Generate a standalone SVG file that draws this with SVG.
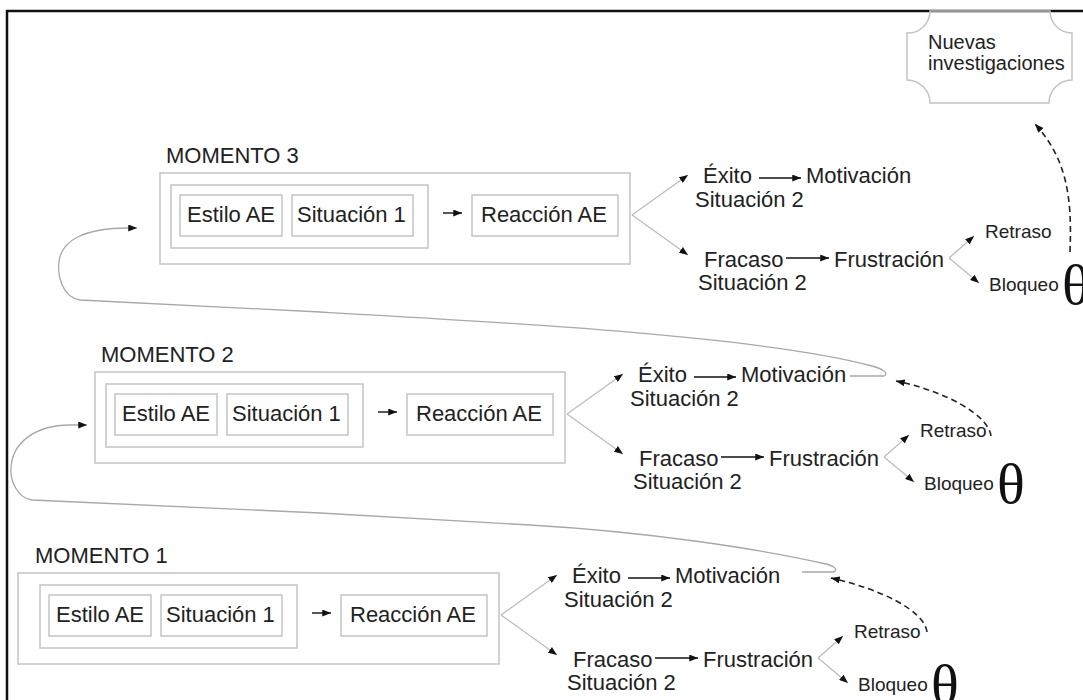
<svg xmlns="http://www.w3.org/2000/svg" width="1083" height="700" viewBox="0 0 1083 700">
<defs>
<style>
.bx{fill:none;stroke:#c4c4c4;stroke-width:1.5}
.t{font-family:"Liberation Sans",Arial,sans-serif;font-size:22px;fill:#222}
.ts{font-family:"Liberation Sans",Arial,sans-serif;font-size:19px;fill:#222}
.th{font-family:"Liberation Serif","Times New Roman",serif;font-size:58px;fill:#111}
.br{fill:none;stroke:#bdbdbd;stroke-width:1.3}
.ar{fill:none;stroke:#111;stroke-width:1.4}
.cn{fill:none;stroke:#a8a8a8;stroke-width:1.3}
.ds{fill:none;stroke:#222;stroke-width:1.6;stroke-dasharray:6 4}
</style>
<marker id="ah" viewBox="0 0 10 8" refX="10" refY="4" markerWidth="9" markerHeight="7" markerUnits="userSpaceOnUse" orient="auto"><path d="M0,0 L10,4 L0,8 Z" fill="#111"/></marker>
</defs>
<rect x="0" y="0" width="1083" height="700" fill="#fff"/>
<rect x="7" y="11" width="1090" height="710" fill="none" stroke="#111" stroke-width="2.5"/>

<g id="nuevas">
<path class="bx" d="M930,11 H1050 A22,22 0 0 0 1072,33 V80 A23,23 0 0 0 1049,103 H930 A23,23 0 0 0 907,80 V33 A22,22 0 0 0 930,11 Z"/>
<text class="t" style="font-size:20px" x="928" y="49">Nuevas</text>
<text class="t" style="font-size:20px" x="928" y="70">investigaciones</text>
</g>

<g id="momento3">
<text class="t" x="166" y="163">MOMENTO 3</text>
<rect class="bx" x="160" y="173" width="470" height="91"/>
<rect class="bx" x="171" y="185" width="257" height="63"/>
<g id="m3-estilo"><rect class="bx" x="180" y="195" width="102" height="41"/><text class="t" x="187" y="222">Estilo AE</text></g>
<g id="m3-sit1"><rect class="bx" x="292" y="195" width="121" height="41"/><text class="t" x="297" y="222">Situación 1</text></g>
<g id="m3-reaccion"><rect class="bx" x="472" y="195" width="146" height="41"/><text class="t" x="481" y="222">Reacción AE</text></g>
<g id="m3-exito"><text class="t" x="703" y="183">Éxito</text><text class="t" x="695" y="207">Situación 2</text></g>
<g id="m3-motivacion"><text class="t" x="806" y="183">Motivación</text></g>
<g id="m3-fracaso"><text class="t" x="704" y="267">Fracaso</text><text class="t" x="698" y="290">Situación 2</text></g>
<g id="m3-frustracion"><text class="t" x="834" y="267">Frustración</text></g>
<g id="m3-retraso"><text class="ts" x="985" y="238">Retraso</text></g>
<g id="m3-bloqueo"><text class="ts" x="989" y="291">Bloqueo</text><text class="th" x="1062" y="304">θ</text></g>
</g>

<g id="momento2" transform="translate(-65,199)">
<text class="t" x="166" y="163">MOMENTO 2</text>
<rect class="bx" x="160" y="173" width="470" height="91"/>
<rect class="bx" x="171" y="185" width="257" height="63"/>
<g id="m2-estilo"><rect class="bx" x="180" y="195" width="102" height="41"/><text class="t" x="187" y="222">Estilo AE</text></g>
<g id="m2-sit1"><rect class="bx" x="292" y="195" width="121" height="41"/><text class="t" x="297" y="222">Situación 1</text></g>
<g id="m2-reaccion"><rect class="bx" x="472" y="195" width="146" height="41"/><text class="t" x="481" y="222">Reacción AE</text></g>
<g id="m2-exito"><text class="t" x="703" y="183">Éxito</text><text class="t" x="695" y="207">Situación 2</text></g>
<g id="m2-motivacion"><text class="t" x="806" y="183">Motivación</text></g>
<g id="m2-fracaso"><text class="t" x="704" y="267">Fracaso</text><text class="t" x="698" y="290">Situación 2</text></g>
<g id="m2-frustracion"><text class="t" x="834" y="267">Frustración</text></g>
<g id="m2-retraso"><text class="ts" x="985" y="238">Retraso</text></g>
<g id="m2-bloqueo"><text class="ts" x="989" y="291">Bloqueo</text><text class="th" x="1062" y="304">θ</text></g>
</g>

<g id="momento1" transform="translate(-131,400)">
<text class="t" x="166" y="163">MOMENTO 1</text>
<rect class="bx" x="149" y="173" width="481" height="91"/>
<rect class="bx" x="171" y="185" width="257" height="63"/>
<g id="m1-estilo"><rect class="bx" x="180" y="195" width="102" height="41"/><text class="t" x="187" y="222">Estilo AE</text></g>
<g id="m1-sit1"><rect class="bx" x="292" y="195" width="121" height="41"/><text class="t" x="297" y="222">Situación 1</text></g>
<g id="m1-reaccion"><rect class="bx" x="472" y="195" width="146" height="41"/><text class="t" x="481" y="222">Reacción AE</text></g>
<g id="m1-exito"><text class="t" x="703" y="183">Éxito</text><text class="t" x="695" y="207">Situación 2</text></g>
<g id="m1-motivacion"><text class="t" x="806" y="183">Motivación</text></g>
<g id="m1-fracaso"><text class="t" x="704" y="267">Fracaso</text><text class="t" x="698" y="290">Situación 2</text></g>
<g id="m1-frustracion"><text class="t" x="834" y="267">Frustración</text></g>
<g id="m1-retraso"><text class="ts" x="985" y="238">Retraso</text></g>
<g id="m1-bloqueo"><text class="ts" x="989" y="291">Bloqueo</text><text class="th" x="1062" y="304">θ</text></g>
</g>

<g id="connectors">
<g id="c-m3">
<path class="ar" d="M443,213 H462" marker-end="url(#ah)"/>
<path class="br" d="M632,215 L688,175" marker-end="url(#ah)"/>
<path class="br" d="M632,215 L688,255" marker-end="url(#ah)"/>
<path class="ar" d="M759,178 H801" marker-end="url(#ah)"/>
<path class="ar" d="M786,258 H829" marker-end="url(#ah)"/>
<path class="br" d="M949,258 L974,236" marker-end="url(#ah)"/>
<path class="br" d="M949,258 L979,283" marker-end="url(#ah)"/>
</g>
<g id="c-m2" transform="translate(-65,199)">
<path class="ar" d="M443,213 H462" marker-end="url(#ah)"/>
<path class="br" d="M632,215 L688,175" marker-end="url(#ah)"/>
<path class="br" d="M632,215 L688,255" marker-end="url(#ah)"/>
<path class="ar" d="M759,178 H801" marker-end="url(#ah)"/>
<path class="ar" d="M786,258 H829" marker-end="url(#ah)"/>
<path class="br" d="M949,258 L974,236" marker-end="url(#ah)"/>
<path class="br" d="M949,258 L979,283" marker-end="url(#ah)"/>
</g>
<g id="c-m1" transform="translate(-131,400)">
<path class="ar" d="M443,213 H462" marker-end="url(#ah)"/>
<path class="br" d="M632,215 L688,175" marker-end="url(#ah)"/>
<path class="br" d="M632,215 L688,255" marker-end="url(#ah)"/>
<path class="ar" d="M759,178 H801" marker-end="url(#ah)"/>
<path class="ar" d="M786,258 H829" marker-end="url(#ah)"/>
<path class="br" d="M949,258 L974,236" marker-end="url(#ah)"/>
<path class="br" d="M949,258 L979,283" marker-end="url(#ah)"/>
</g>
<path id="c-m2-m3" class="cn" d="M850,376 H884 C889,374 884,369 872,366 C760,336 500,322 320,312 L80,300 C62,297 57,275 59,262 C61,240 85,228 128,228 L137,228" marker-end="url(#ah)"/>
<path id="c-m1-m2" class="cn" d="M802,572 H834 C838,569 834,566 826,564 C760,549 650,532 530,525 L320,513 L32,500 C17,498 10,480 11,468 C12,443 35,425 70,425 L87,425" marker-end="url(#ah)"/>
<path id="c-d1" class="ds" d="M927,632 C924,610 880,589 831,578" marker-end="url(#ah)"/>
<path id="c-d2" class="ds" d="M991,436 C988,414 944,391 896,381" marker-end="url(#ah)"/>
<path id="c-d3" class="ds" d="M1070,252 C1072,200 1068,160 1035,124" marker-end="url(#ah)"/>
</g>
</svg>
